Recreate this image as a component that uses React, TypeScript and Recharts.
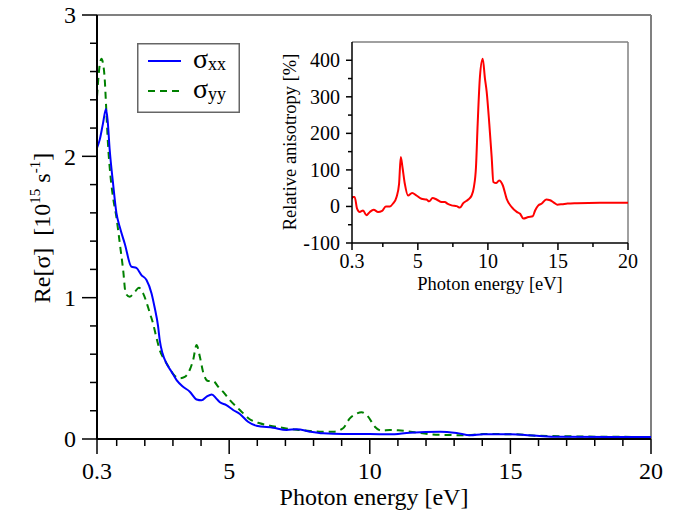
import { LineChart, Line, XAxis, YAxis, ReferenceLine, Legend } from 'recharts'

// sigma_xx (blue, solid)
const xxEnergy = [0.3, 0.4, 0.51, 0.62, 0.68, 0.75, 0.87, 0.99, 1.11, 1.29, 1.52, 1.7, 1.88, 2.06, 2.24, 2.35, 2.47, 2.53, 2.63, 2.77, 2.95, 3.13, 3.36, 3.6, 3.84, 4.02, 4.2, 4.38, 4.55, 4.67, 4.9, 5.14, 5.38, 5.67, 5.97, 6.56, 7.04, 7.4, 7.87, 8.34, 9.05, 10.0, 10.7, 11.43, 12.5, 13.09, 13.57, 14.04, 15.0, 15.94, 16.65, 20]
const xxValue = [2.06, 2.12, 2.23, 2.335, 2.25, 2.05, 1.81, 1.6, 1.5, 1.38, 1.22, 1.21, 1.16, 1.125, 1.03, 0.93, 0.8, 0.7, 0.606, 0.535, 0.476, 0.417, 0.37, 0.335, 0.28, 0.274, 0.3, 0.315, 0.285, 0.26, 0.24, 0.205, 0.177, 0.122, 0.094, 0.08, 0.064, 0.069, 0.052, 0.04, 0.035, 0.035, 0.033, 0.045, 0.052, 0.042, 0.026, 0.033, 0.033, 0.023, 0.016, 0.014]

// sigma_yy (green, dashed)
const yyEnergy = [0.3, 0.38, 0.46, 0.52, 0.57, 0.63, 0.69, 0.78, 0.87, 0.99, 1.11, 1.23, 1.32, 1.46, 1.64, 1.79, 1.94, 2.11, 2.18, 2.29, 2.41, 2.53, 2.7, 2.88, 3.05, 3.24, 3.42, 3.6, 3.72, 3.84, 3.96, 4.07, 4.25, 4.43, 4.61, 4.78, 5.02, 5.38, 5.73, 6.09, 6.45, 6.8, 7.16, 7.51, 7.87, 8.23, 8.7, 9.05, 9.29, 9.53, 9.71, 9.94, 10.18, 10.42, 10.72, 11.01, 11.6, 12.2, 12.9, 13.4, 14.04, 15.2, 15.94, 20]
const yyValue = [2.42, 2.62, 2.69, 2.65, 2.56, 2.33, 2.09, 1.86, 1.71, 1.57, 1.385, 1.196, 1.03, 1.007, 1.04, 1.07, 1.03, 0.936, 0.89, 0.82, 0.72, 0.63, 0.56, 0.5, 0.45, 0.43, 0.44, 0.49, 0.56, 0.665, 0.58, 0.476, 0.41, 0.41, 0.37, 0.335, 0.276, 0.205, 0.14, 0.111, 0.094, 0.083, 0.071, 0.064, 0.057, 0.052, 0.052, 0.076, 0.146, 0.18, 0.19, 0.158, 0.087, 0.059, 0.064, 0.062, 0.047, 0.033, 0.028, 0.026, 0.035, 0.033, 0.023, 0.014]

// relative anisotropy (inset, red)
const anisoEnergy = [0.3, 0.33, 0.49, 0.66, 0.85, 1.09, 1.33, 1.57, 1.85, 2.16, 2.45, 2.71, 3.0, 3.23, 3.48, 3.66, 3.78, 3.9, 4.07, 4.3, 4.59, 4.9, 5.26, 5.62, 5.81, 6.05, 6.34, 6.7, 6.93, 7.1, 7.41, 7.77, 8.0, 8.24, 8.6, 8.84, 9.0, 9.15, 9.27, 9.43, 9.63, 9.79, 9.91, 10.1, 10.27, 10.39, 10.58, 10.8, 11.06, 11.34, 11.7, 12.06, 12.3, 12.53, 12.89, 13.2, 13.37, 13.6, 13.85, 14.16, 14.44, 14.73, 14.96, 15.28, 15.68, 16.35, 18, 20]
const anisoValue = [20, 26, 26, -6, -15, -11, -24, -15, -9, -15, -12, 0, 0, 8, 26, 62, 135, 108, 62, 30, 37, 30, 21, 19, 14, 23, 19, 12, 12, 8, 3, 1, -3, 9, 19, 30, 53, 108, 226, 354, 404, 350, 315, 226, 135, 67, 64, 71, 58, 21, -2, -15, -20, -33, -29, -27, -11, 3, 8, 19, 17, 10, 5, 6, 8, 9, 10, 10]

const mainXTicks = [0.3, 1, 2, 3, 4, 5, 6, 7, 8, 9, 10, 11, 12, 13, 14, 15, 16, 17, 18, 19, 20]
const mainXLabels = [0.3, 5, 10, 15, 20]
const mainYTicks = [0, 0.2, 0.4, 0.6, 0.8, 1, 1.2, 1.4, 1.6, 1.8, 2, 2.2, 2.4, 2.6, 2.8, 3]
const mainYLabels = [0, 1, 2, 3]
const insetXTicks = [0.3, 2.5, 5, 7.5, 10, 12.5, 15, 17.5, 20]
const insetXLabels = [0.3, 5, 10, 15, 20]
const insetYTicks = [-100, -50, 0, 50, 100, 150, 200, 250, 300, 350, 400]
const insetYLabels = [-100, 0, 100, 200, 300, 400]

const zip = (xs: number[], ys: number[]) => xs.map((e, i) => ({ e, v: ys[i] }))
const xxData = zip(xxEnergy, xxValue)
const yyData = zip(yyEnergy, yyValue)
const anisoData = zip(anisoEnergy, anisoValue)

const serif = { fontFamily: 'Liberation Serif, Times New Roman, serif' }

function xTick(labels: number[], major: number, minor: number, size: number, dy: number) {
  return (props: any) => {
    const { x, y, payload } = props
    const isMajor = labels.includes(payload.value)
    return (
      <g>
        <line x1={x} x2={x} y1={y} y2={y + (isMajor ? major : minor)} stroke="#000" strokeWidth={1.5} />
        {isMajor && (
          <text x={x} y={y + dy} textAnchor="middle" fontSize={size} style={serif} fill="#000">
            {payload.value}
          </text>
        )}
      </g>
    )
  }
}

function yTick(labels: number[], major: number, minor: number, size: number, dx: number) {
  return (props: any) => {
    const { x, y, payload } = props
    const isMajor = labels.includes(payload.value)
    return (
      <g>
        <line x1={x - (isMajor ? major : minor)} x2={x} y1={y} y2={y} stroke="#000" strokeWidth={1.5} />
        {isMajor && (
          <text x={x - dx} y={y} dy="0.35em" textAnchor="end" fontSize={size} style={serif} fill="#000">
            {payload.value}
          </text>
        )}
      </g>
    )
  }
}

function LegendBox() {
  return (
    <svg width={103} height={70} style={{ display: 'block', background: '#fff' }}>
      <rect x={0.75} y={0.75} width={101.5} height={68.5} fill="#fff" stroke="#666" strokeWidth={1.5} />
      <line x1={11} x2={44} y1={18} y2={18} stroke="#0000ff" strokeWidth={2} />
      <text x={56} y={25} fontSize={28} style={serif}>
        σ<tspan fontSize={18} dy={2}>xx</tspan>
      </text>
      <line x1={11} x2={44} y1={48} y2={48} stroke="#008000" strokeWidth={2} strokeDasharray="7 5" />
      <text x={56} y={55} fontSize={28} style={serif}>
        σ<tspan fontSize={18} dy={2}>yy</tspan>
      </text>
    </svg>
  )
}

export default function App() {
  return (
    <div style={{ position: 'absolute', left: 0, top: 0, width: 688, height: 516, background: '#fff', ...serif }}>
      <div style={{ position: 'absolute', left: 0, top: 0 }}>
        <LineChart width={688} height={516} margin={{ top: 15, right: 37, bottom: 0, left: 0 }}>
          <XAxis
            dataKey="e"
            type="number"
            domain={[0.3, 20]}
            ticks={mainXTicks}
            interval={0}
            height={77}
            tickSize={0}
            tickMargin={0}
            tickLine={false}
            axisLine={{ stroke: '#000', strokeWidth: 2 }}
            tick={xTick(mainXLabels, 15, 7, 24, 40)}
            allowDataOverflow
            label={{
              content: () => (
                <text x={374} y={505} textAnchor="middle" fontSize={24} style={serif} fill="#000">
                  Photon energy [eV]
                </text>
              ),
            }}
          />
          <YAxis
            type="number"
            domain={[0, 3]}
            ticks={mainYTicks}
            interval={0}
            width={97}
            tickSize={0}
            tickMargin={0}
            tickLine={false}
            axisLine={{ stroke: '#000', strokeWidth: 2 }}
            tick={yTick(mainYLabels, 15, 7, 24, 21)}
            allowDataOverflow
            label={{
              content: () => (
                <text transform="translate(50,228) rotate(-90)" textAnchor="middle" fontSize={24} style={serif} fill="#000">
                  Re[σ]{'\u00a0\u00a0'}[10<tspan fontSize={15} dy={-10}>15</tspan>
                  <tspan dy={10}> s</tspan>
                  <tspan fontSize={15} dy={-10}>-1</tspan>
                  <tspan dy={10}>]</tspan>
                </text>
              ),
            }}
          />
          <ReferenceLine y={3} stroke="#808080" strokeWidth={2} />
          <ReferenceLine x={20} stroke="#808080" strokeWidth={2} />
          <Line data={yyData} dataKey="v" type="monotone" stroke="#008000" strokeWidth={2} strokeDasharray="7 5" dot={false} isAnimationActive={false} />
          <Line data={xxData} dataKey="v" type="monotone" stroke="#0000ff" strokeWidth={2} dot={false} isAnimationActive={false} />
          <Legend
            layout="vertical"
            align="center"
            verticalAlign="middle"
            wrapperStyle={{ left: 137, top: 43, width: 103, height: 70 }}
            content={() => <LegendBox />}
          />
        </LineChart>
      </div>
      <div style={{ position: 'absolute', left: 0, top: 0 }}>
        <LineChart width={688} height={516} margin={{ top: 42, right: 60, bottom: 0, left: 0 }}>
          <XAxis
            dataKey="e"
            type="number"
            domain={[0.3, 20]}
            ticks={insetXTicks}
            interval={0}
            height={273}
            tickSize={0}
            tickMargin={0}
            tickLine={false}
            axisLine={{ stroke: '#000', strokeWidth: 1.5 }}
            tick={xTick(insetXLabels, 7, 4, 20, 25)}
            allowDataOverflow
            label={{
              content: () => (
                <text x={490} y={290} textAnchor="middle" fontSize={18.5} style={serif} fill="#000">
                  Photon energy [eV]
                </text>
              ),
            }}
          />
          <YAxis
            type="number"
            domain={[-100, 450]}
            ticks={insetYTicks}
            interval={0}
            width={352}
            tickSize={0}
            tickMargin={0}
            tickLine={false}
            axisLine={{ stroke: '#000', strokeWidth: 1.5 }}
            tick={yTick(insetYLabels, 6, 4, 20, 12)}
            allowDataOverflow
            label={{
              content: () => (
                <text transform="translate(296,142) rotate(-90)" textAnchor="middle" fontSize={18.5} style={serif} fill="#000">
                  Relative anisotropy [%]
                </text>
              ),
            }}
          />
          <ReferenceLine y={450} stroke="#808080" strokeWidth={1.5} />
          <ReferenceLine x={20} stroke="#808080" strokeWidth={1.5} />
          <Line data={anisoData} dataKey="v" type="monotone" stroke="#ff0000" strokeWidth={2} dot={false} isAnimationActive={false} />
        </LineChart>
      </div>
    </div>
  )
}
